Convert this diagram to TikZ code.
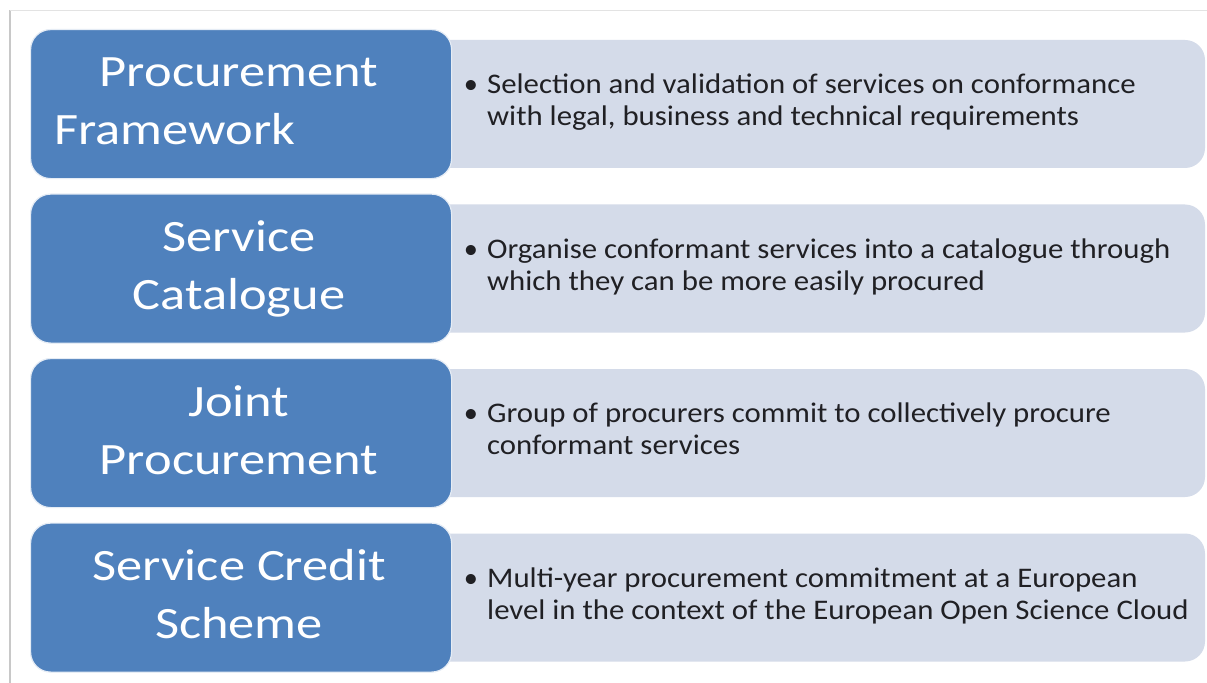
\documentclass[tikz,border=0pt]{standalone}
\usepackage{fontspec}
\setmainfont{Carlito}
\usepackage{graphicx}
\definecolor{boxblue}{RGB}{79,129,189}
\definecolor{boxlight}{RGB}{212,219,233}
\definecolor{bodytext}{RGB}{32,32,36}
\definecolor{frameline}{RGB}{200,200,200}
\tikzset{
  bluebox/.style={fill=boxblue, draw=white!85!boxblue, line width=1.2bp, rounded corners=20bp},
  lightbox/.style={fill=boxlight, draw=none, rounded corners=20bp},
  titleline/.style={anchor=base, inner sep=0pt, text=white, font=\fontsize{45}{58}\selectfont},
  bodyline/.style={anchor=base west, inner sep=0pt, text=bodytext, font=\fontsize{28.5}{32}\selectfont},
  bulletmark/.style={anchor=base, inner sep=0pt, text=bodytext, font=\fontsize{28.5}{32}\selectfont},
}
\newcommand{\tstretch}[1]{\scalebox{1.17}[1]{#1}}
\newcommand{\bstretch}[1]{\scalebox{1.085}[1]{#1}}
\begin{document}
\begin{tikzpicture}[x=1bp,y=-1bp]
\useasboundingbox (0,0) rectangle (1207,683);
\fill[white] (0,0) rectangle (1207,683);
% frame lines
\coordinate (fa) at (10,683);
\coordinate (fb) at (10,10);
\coordinate (fc) at (1207,10);
\draw[frameline, line width=1.2bp] (fa) -- (fb);
\draw[frameline!50, line width=0.8bp] (fb) -- (fc);

\foreach \i/\ta/\tb/\shift/\la/\lb in {
  0/Procurement/Framework/-64/{Selection and validation of services on conformance}/{with legal, business and technical requirements},
  1/Service/Catalogue/0/{Organise conformant services into a catalogue through}/{which they can be more easily procured},
  2/Joint/Procurement/0/{Group of procurers commit to collectively procure}/{conformant services},
  3/Service Credit/Scheme/0/{Multi-year procurement commitment at a European}/{level in the context of the European Open Science Cloud}}
{
  \pgfmathsetmacro{\T}{29+164.5*\i}
  \path[lightbox] (420,\T+11) rectangle (1205,\T+139);
  \node[bluebox, inner sep=0pt, rectangle, anchor=north west,
        minimum width=421bp, minimum height=149bp] (blue\i) at (30,\T) {};
  \node[titleline] (title\i a) at (239,\T+58) {\tstretch{\ta}};
  \node[titleline] (title\i b) at (239+\shift,\T+116) {\tstretch{\tb}};
  \node[bulletmark] (bul\i) at (471,\T+64.5) {•};
  \node[bodyline] (body\i a) at (487,\T+64.5) {\bstretch{\la}};
  \node[bodyline] (body\i b) at (487,\T+96.5) {\bstretch{\lb}};
}
\end{tikzpicture}
\end{document}
